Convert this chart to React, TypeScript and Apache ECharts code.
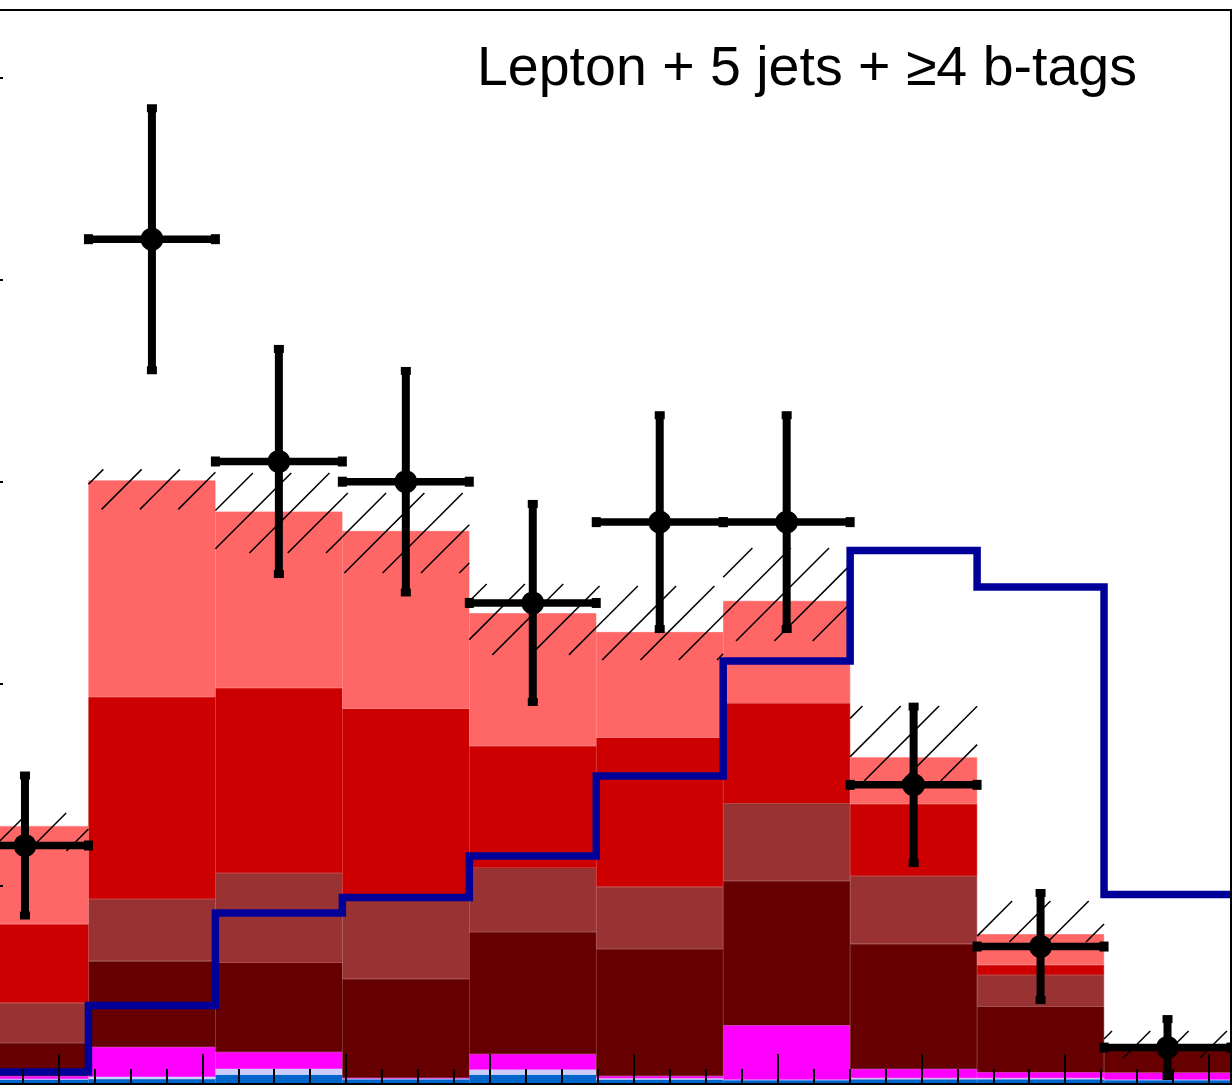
import React, { useEffect, useRef } from "react";
import * as echarts from "echarts";

// ---- data ----
const binLabels = ["1", "2", "3", "4", "5", "6", "7", "8", "9", "10"];

// stacked backgrounds, bottom to top
const ewk = [0.42, 0.45, 0.66, 0.43, 0.66, 0.42, 0.4, 0.43, 0.43, 0.4];
const ttV = [0.03, 0.11, 0.29, 0.06, 0.25, 0.06, 0.02, 0.06, 0.06, 0.02];
const singleTop = [0.14, 1.47, 0.83, 0.01, 0.77, 0.11, 2.68, 0.45, 0.29, 0.34];
const ttbb = [1.64, 4.25, 4.42, 4.89, 6.04, 6.29, 7.14, 6.19, 3.24, 1.12];
const ttb = [1.98, 3.07, 4.44, 4.01, 3.18, 3.07, 3.85, 3.36, 1.57, 0.1];
const ttcc = [3.9, 10.0, 9.15, 9.37, 6.02, 7.38, 4.95, 3.56, 0.5, 0.05];
const ttlf = [4.85, 10.71, 8.73, 8.79, 6.57, 5.23, 5.06, 2.31, 1.52, 0.1];

// uncertainty band (hatched)
const bandHi = [13.61, 30.61, 30.43, 29.44, 24.94, 24.84, 26.72, 18.9, 9.25, 2.82];
const bandLo = [11.73, 28.63, 26.47, 25.48, 21.43, 21.18, 22.12, 15.19, 7.22, 1.48];

// signal histogram (line)
const signal = [0.79, 4.08, 8.66, 9.43, 11.48, 15.44, 21.13, 26.6, 24.79, 9.57];

// data points
const dataCounts = [12, 42, 31, 30, 24, 28, 28, 15, 7, 2];
const dataErr = [3.46, 6.48, 5.57, 5.48, 4.9, 5.29, 5.29, 3.87, 2.65, 1.41];

const yMax = 53.34;
const title = "Lepton + 5 jets + \u22654 b-tags";

const layers = [
  { name: "EWK", values: ewk, color: "#0066cc" },
  { name: "ttV", values: ttV, color: "#ccccff" },
  { name: "single t", values: singleTop, color: "#ff00ff" },
  { name: "tt+bb", values: ttbb, color: "#660000" },
  { name: "tt+b", values: ttb, color: "#993333" },
  { name: "tt+cc", values: ttcc, color: "#cc0000" },
  { name: "tt+lf", values: ttlf, color: "#ff6666" },
];

// the chart canvas extends past the visible page on the left/bottom
const OX = 100;
const W = 1332;
const H = 1100;

export default function App() {
  const ref = useRef<HTMLDivElement>(null);

  useEffect(() => {
    const el = ref.current!;
    const chart = echarts.init(el, null, { renderer: "svg" });

    const barSeries = layers.map((l) => ({
      type: "bar",
      name: l.name,
      stack: "bg",
      xAxisIndex: 0,
      yAxisIndex: 0,
      barCategoryGap: "0%",
      itemStyle: { color: l.color, borderColor: l.color, borderWidth: 0.6 },
      emphasis: { disabled: true },
      data: l.values,
      z: 2,
    }));

    const signalPts: number[][] = [];
    signal.forEach((v, i) => {
      signalPts.push([i, v]);
      signalPts.push([i + 1, v]);
    });

    const option: any = {
      animation: false,
      backgroundColor: "#ffffff",
      grid: [
        { left: OX - 38.5, right: W - (OX + 1231), top: 10, bottom: H - 1088 },
        { left: OX - 85.31, width: 1294.3, top: 10, bottom: H - 1088 },
      ],
      xAxis: [
        {
          type: "category",
          gridIndex: 0,
          data: binLabels,
          boundaryGap: true,
          axisLine: { show: true, lineStyle: { color: "#000", width: 10 } },
          axisTick: { show: false },
          axisLabel: { show: false },
          splitLine: { show: false },
          z: 10,
        },
        {
          type: "value",
          gridIndex: 1,
          min: -1,
          max: 8,
          interval: 1,
          axisLine: { show: false },
          axisTick: { show: true, inside: true, length: 34, lineStyle: { color: "#000", width: 2 } },
          minorTick: { show: true, splitNumber: 4, length: 19, lineStyle: { color: "#000", width: 2 } },
          axisLabel: { show: false },
          splitLine: { show: false },
          minorSplitLine: { show: false },
          z: 11,
        },
        { type: "value", gridIndex: 0, min: 0, max: 10, show: false },
      ],
      yAxis: [
        {
          type: "value",
          gridIndex: 0,
          min: 0,
          max: yMax,
          interval: 10,
          axisLine: { show: false },
          axisTick: { show: true, inside: true, length: 41.5, lineStyle: { color: "#000", width: 2 } },
          axisLabel: { show: false },
          splitLine: { show: false },
          z: 10,
        },
        { type: "value", gridIndex: 1, min: 0, max: 1, show: false },
      ],
      series: [
        ...barSeries,
        {
          type: "custom",
          name: "uncertainty",
          xAxisIndex: 0,
          yAxisIndex: 0,
          z: 3,
          data: bandHi.map((h, i) => [i, bandLo[i], h]),
          renderItem: (params: any, api: any) => {
            const i = api.value(0);
            const lo = api.coord([i, api.value(1)]);
            const hi = api.coord([i, api.value(2)]);
            const w = api.size([1, 0])[0];
            const x0 = lo[0] - w / 2;
            const x1 = lo[0] + w / 2;
            const y0 = hi[1];
            const y1 = lo[1];
            const step = 38.3;
            const phase = 611 + OX;
            const children: any[] = [];
            const cmin = x0 + y0;
            const cmax = x1 + y1;
            const k = Math.ceil((cmin - phase) / step);
            for (let c = phase + k * step; c <= cmax; c += step) {
              const xa = Math.max(x0, c - y1);
              const xb = Math.min(x1, c - y0);
              if (xb > xa) {
                children.push({
                  type: "line",
                  shape: { x1: xa, y1: c - xa, x2: xb, y2: c - xb },
                  style: { stroke: "#000", lineWidth: 1.5 },
                });
              }
            }
            return { type: "group", children };
          },
        },
        {
          type: "line",
          name: "signal",
          xAxisIndex: 2,
          yAxisIndex: 0,
          data: signalPts,
          symbol: "none",
          showSymbol: false,
          lineStyle: { color: "#000099", width: 7.5, join: "miter", cap: "butt" },
          emphasis: { disabled: true },
          z: 4,
        },
        {
          type: "custom",
          name: "data",
          xAxisIndex: 0,
          yAxisIndex: 0,
          z: 5,
          data: dataCounts.map((n, i) => [i, n, dataErr[i]]),
          renderItem: (params: any, api: any) => {
            const i = api.value(0);
            const n = api.value(1);
            const e = api.value(2);
            const c = api.coord([i, n]);
            const t = api.coord([i, n + e]);
            const b = api.coord([i, n - e]);
            const w = api.size([1, 0])[0];
            const black = { fill: "#000" };
            return {
              type: "group",
              children: [
                { type: "rect", shape: { x: c[0] - w / 2, y: c[1] - 3.75, width: w, height: 7.5 }, style: black },
                { type: "rect", shape: { x: c[0] - 4, y: t[1], width: 8, height: b[1] - t[1] }, style: black },
                { type: "rect", shape: { x: c[0] - w / 2 - 4.5, y: c[1] - 5, width: 9, height: 10 }, style: black },
                { type: "rect", shape: { x: c[0] + w / 2 - 4.5, y: c[1] - 5, width: 9, height: 10 }, style: black },
                { type: "rect", shape: { x: c[0] - 5, y: t[1] - 4, width: 10, height: 8 }, style: black },
                { type: "rect", shape: { x: c[0] - 5, y: b[1] - 4, width: 10, height: 8 }, style: black },
                { type: "circle", shape: { cx: c[0], cy: c[1], r: 11.5 }, style: black },
              ],
            };
          },
        },
      ],
      graphic: [
        {
          type: "rect",
          z: 100,
          shape: { x: OX - 38.5, y: 10, width: 1269.5, height: 1078 },
          style: { fill: "none", stroke: "#000", lineWidth: 2 },
          silent: true,
        },
        {
          type: "text",
          z: 100,
          x: OX + 477,
          y: 66,
          style: {
            text: title,
            fontSize: 55.5,
            fontFamily: "'Liberation Sans', Arial, Helvetica, sans-serif",
            fill: "#000",
            align: "left",
            verticalAlign: "middle",
          },
        },
      ],
    };

    chart.setOption(option);
    return () => chart.dispose();
  }, []);

  return (
    <div
      ref={ref}
      style={{ position: "fixed", left: -OX, top: 0, width: W, height: H, background: "#fff" }}
    />
  );
}
